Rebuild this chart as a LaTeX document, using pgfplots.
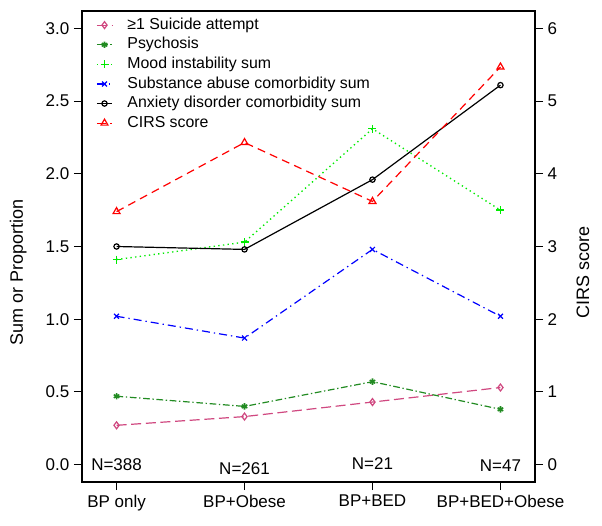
\documentclass[border=0pt]{standalone}
\usepackage{pgfplots}
\pgfplotsset{compat=1.18}
\usepackage{fontspec}
\setmainfont{Liberation Sans}
\definecolor{cSui}{RGB}{208,72,128}
\definecolor{cPsy}{RGB}{34,139,34}
\definecolor{cMood}{RGB}{0,235,0}
\definecolor{cSub}{RGB}{0,0,255}
\definecolor{cAnx}{RGB}{0,0,0}
\definecolor{cCirs}{RGB}{255,0,0}
\pgfplotsset{
  common/.style={
    scale only axis, width=339.75pt, height=353.25pt,
    at={(0,0)}, anchor=south west,
    xmin=0.73, xmax=4.27,
    tick align=outside, major tick length=6pt,
    every tick/.style={black, line width=0.8pt},
    axis line style={line width=0.9pt},
    ticklabel style={font=\fontsize{12.75}{14}\selectfont},
    label style={font=\fontsize{13.5}{15}\selectfont},
    /pgf/number format/assume math mode=true,
  },
  myleg/.style={legend image code/.code={
    \draw[mark repeat=2,mark phase=2,##1] plot coordinates {(0cm,0cm) (0.2cm,0cm) (0.4cm,0cm)};}},
}
\begin{document}
\begin{tikzpicture}
\path[use as bounding box] (-61.5pt,-32.25pt) rectangle (390pt,361.5pt);
\begin{axis}[common, myleg,
  ymin=-0.12, ymax=3.12,
  xtick={1,2,3,4}, xticklabels={BP only, BP+Obese, BP+BED, BP+BED+Obese},
  xtick pos=bottom, ytick pos=left,
  ytick={0,0.5,...,3.0},
  yticklabel style={/pgf/number format/.cd, fixed, fixed zerofill, precision=1},
  ylabel={Sum or Proportion},
  ylabel style={at={(axis description cs:-0.141,0.445)}, anchor=center},
  legend style={at={(axis description cs:0,1)}, anchor=north west, xshift=10.5pt, yshift=-4.5pt,
    draw=none, fill=none, inner sep=0pt, row sep=2.9pt, column sep=11pt,
    font=\fontsize{11.9}{13}\selectfont,
    nodes={inner sep=0pt, text height=9pt, text depth=2.8pt}},
  legend cell align=left,
]
\addplot[cSui, line width=0.9pt, dash pattern=on 7.5pt off 3.5pt, mark=diamond, mark size=2.6pt, mark options={solid}]
  coordinates {(1,0.27) (2,0.33) (3,0.43) (4,0.53)};
\addlegendentry{≥1 Suicide attempt}
\addplot[cPsy, line width=0.9pt, dash pattern=on 5pt off 2pt on 1pt off 2pt, mark=asterisk, mark size=2.4pt, mark options={solid, line width=1.2pt}]
  coordinates {(1,0.47) (2,0.40) (3,0.57) (4,0.38)};
\addlegendentry{Psychosis}
\addplot[cMood, line width=1pt, dash pattern=on 1pt off 2.5pt, mark=+, mark size=3pt, mark options={solid}]
  coordinates {(1,1.41) (2,1.53) (3,2.31) (4,1.75)};
\addlegendentry{Mood instability sum}
\addplot[cSub, line width=0.9pt, dash pattern=on 6pt off 3pt on 1pt off 3pt, mark=x, mark size=2.6pt, mark options={solid}]
  coordinates {(1,1.02) (2,0.87) (3,1.48) (4,1.02)};
\addlegendentry{Substance abuse comorbidity sum}
\addplot[cAnx, line width=0.9pt, mark=o, mark size=2pt, mark options={solid}]
  coordinates {(1,1.50) (2,1.48) (3,1.96) (4,2.61)};
\addlegendentry{Anxiety disorder comorbidity sum}
\addlegendimage{cCirs, line width=0.9pt, dash pattern=on 6pt off 4pt, mark=triangle, mark size=3pt, mark options={solid}}
\addlegendentry{CIRS score}
\node[font=\fontsize{12.75}{14}\selectfont] at (axis cs:1,0.0) {N=388};
\node[font=\fontsize{12.75}{14}\selectfont] at (axis cs:2,-0.025) {N=261};
\node[font=\fontsize{12.75}{14}\selectfont] at (axis cs:3,0.01) {N=21};
\node[font=\fontsize{12.75}{14}\selectfont] at (axis cs:4,-0.01) {N=47};
\end{axis}
\begin{axis}[common,
  ymin=-0.24, ymax=6.24,
  axis x line=none, axis y line*=right,
  ytick={0,1,...,6},
  ylabel={CIRS score},
  ylabel style={at={(axis description cs:1.106,0.445)}, anchor=center, rotate=0},
]
\addplot[cCirs, line width=0.9pt, dash pattern=on 6pt off 4pt, mark=triangle, mark size=3pt, mark options={solid}]
  coordinates {(1,3.48) (2,4.43) (3,3.62) (4,5.47)};
\end{axis}
\end{tikzpicture}
\end{document}
